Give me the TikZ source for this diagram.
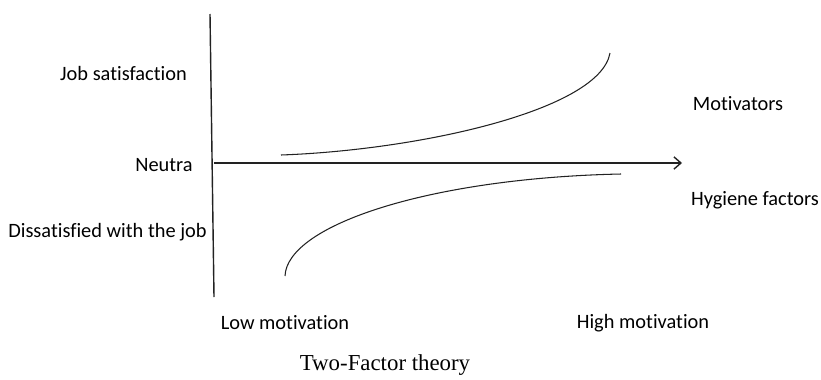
\documentclass[tikz,border=0pt]{standalone}
\usepackage{fontspec}
\setmainfont{Carlito}[Ligatures={NoCommon}]
\newfontfamily\capfont{Liberation Serif}
\usetikzlibrary{arrows.meta}
\definecolor{Axis}{HTML}{222222}
\tikzset{
  axis/.style={line width=0.8pt, color=Axis},
  crv/.style={line width=0.6pt, color=Axis},
  lbl/.style={font=\fontsize{11.6}{13}\selectfont, inner sep=0pt, anchor=center},
  ttlstyle/.style={font=\capfont\fontsize{13}{15}\selectfont, inner sep=0pt, anchor=center},
}
\begin{document}
\begin{tikzpicture}[x=0.02cm,y=-0.02cm]
  \useasboundingbox (0,0) rectangle (821,379);
  % axes
  \coordinate (ytop) at (210,14);
  \coordinate (ybot) at (214,297);
  \coordinate (xl) at (214,163);
  \coordinate (xr) at (682,163);
  \draw[axis] (ytop) -- (ybot);
  \draw[axis,-{Straight Barb[length=4pt,width=7pt]}] (xl) -- (xr);
  % curves
  \coordinate (ms) at (281,155);
  \coordinate (me) at (610,53);
  \coordinate (hs) at (285,276);
  \coordinate (he) at (621,174);
  \draw[crv] (ms) .. controls (420,150) and (600,110) .. (me);
  \draw[crv] (hs) .. controls (287,225) and (430,178) .. (he);
  % labels
  \node[lbl] (sat)  at (123.5,73)  {Job satisfaction};
  \node[lbl] (neu)  at (164,165)   {Neutra};
  \node[lbl] (dis)  at (107.5,232) {Dissatisfied with the job};
  \node[lbl] (mot)  at (738,104)   {Motivators};
  \node[lbl] (hyg)  at (755,200)   {Hygiene factors};
  \node[lbl] (low)  at (285,323)   {Low motivation};
  \node[lbl] (high) at (643,323)   {High motivation};
  \node[ttlstyle] (ttl) at (385,365) {Two-Factor theory};
\end{tikzpicture}
\end{document}
